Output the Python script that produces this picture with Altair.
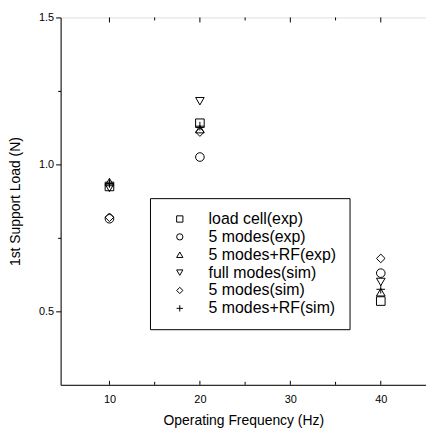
import altair as alt
import pandas as pd

freq = [10, 20, 40]
series_names = ["load cell(exp)", "5 modes(exp)", "5 modes+RF(exp)",
                "full modes(sim)", "5 modes(sim)", "5 modes+RF(sim)"]
load_cell_exp = [0.925, 1.14, 0.535]
modes5_exp = [0.815, 1.025, 0.63]
modes5rf_exp = [0.94, 1.12, 0.565]
full_modes_sim = [0.92, 1.215, 0.60]
modes5_sim = [0.82, 1.11, 0.68]
modes5rf_sim = [0.935, 1.13, 0.575]

x_major = [10, 20, 30, 40]
x_minor = [15, 25, 35]
y_ticks = [0.5, 0.75, 1.0, 1.25, 1.5]

all_vals = [load_cell_exp, modes5_exp, modes5rf_exp, full_modes_sim, modes5_sim, modes5rf_sim]
rows = []
for name, vals in zip(series_names, all_vals):
    for f, v in zip(freq, vals):
        rows.append({"freq": f, "load": v, "series": name})
df = pd.DataFrame(rows)

W, H = 368, 370
FONT = "Liberation Sans"
plus_path = "M-1,0H1M0,-1V1"
shapes = ["square", "circle", "triangle-up", "triangle-down", "diamond", plus_path]

xscale = alt.Scale(domain=[4.6, 45], nice=False, zero=False)
yscale = alt.Scale(domain=[0.25, 1.5], nice=False, zero=False)

points = alt.Chart(df).mark_point(filled=False, color="black", strokeWidth=1, size=75, opacity=1).encode(
    x=alt.X("freq:Q", scale=xscale, axis=alt.Axis(
        title="Operating Frequency (Hz)", values=x_major, ticks=False, grid=False,
        labelPadding=9, titlePadding=9, labelFontSize=11, titleFontSize=14,
        labelFont=FONT, titleFont=FONT, titleFontWeight="normal", domain=True,
        domainColor="black", labelColor="black", titleColor="black")),
    y=alt.Y("load:Q", scale=yscale, axis=alt.Axis(
        title="1st Support Load (N)", values=y_ticks, grid=False,
        labelExpr="datum.value % 0.5 == 0 ? format(datum.value, '.1f') : ''",
        tickSize={"condition": {"test": "datum.value % 0.5 == 0", "value": 5}, "value": 3},
        tickColor="black", labelFontSize=11, titleFontSize=14, labelFont=FONT, titleFont=FONT,
        titleFontWeight="normal", labelPadding=2, titlePadding=16, domainColor="black",
        labelColor="black", titleColor="black")),
    shape=alt.Shape("series:N", scale=alt.Scale(domain=series_names, range=shapes),
                    legend=alt.Legend(title=None, orient="none", legendX=90, legendY=182,
                                      strokeColor="black", fillColor="white", padding=13,
                                      labelFontSize=16, labelFont=FONT, labelColor="black",
                                      symbolSize=40, symbolStrokeColor="black",
                                      symbolFillColor="transparent", symbolStrokeWidth=1,
                                      labelOffset=21, rowPadding=2, symbolOffset=9)),
)

tick_df_major = pd.DataFrame({"freq": x_major})
tick_df_minor = pd.DataFrame({"freq": x_minor})

def ticks(dfx, y0, y1):
    return alt.Chart(dfx).mark_rule(color="black", strokeWidth=1).encode(
        x=alt.X("freq:Q", scale=xscale), y=alt.value(y0), y2=alt.value(y1))

chart = alt.layer(
    points,
    ticks(tick_df_major, 0, 5), ticks(tick_df_minor, 0, 3),
    ticks(tick_df_major, H, H - 4), ticks(tick_df_minor, H, H - 3),
).properties(width=W, height=H, padding={"left": 0, "top": 2, "right": 0, "bottom": 0}
).configure_view(stroke="black", strokeWidth=1.2
).configure(background="white")

chart.save("out.html", embed_options={"renderer": "svg", "actions": False})
